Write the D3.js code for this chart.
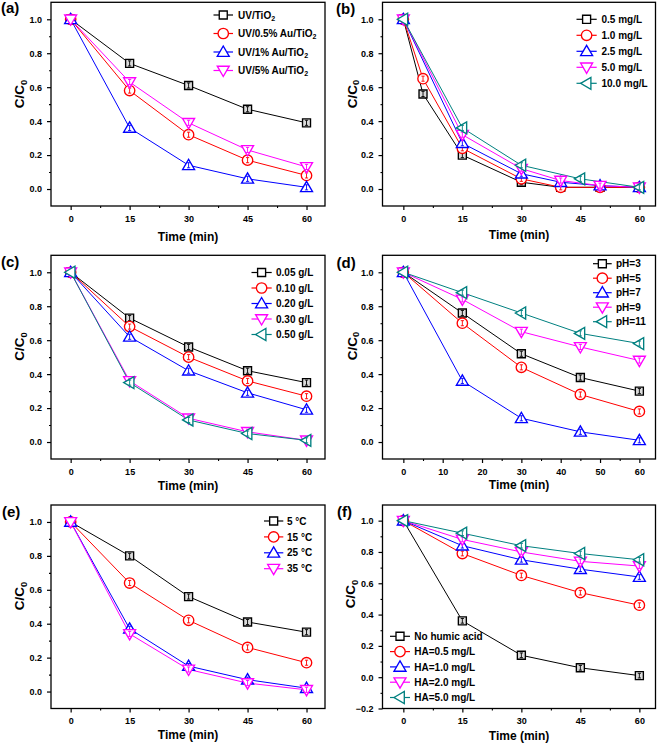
<!DOCTYPE html>
<html><head><meta charset="utf-8">
<script src="https://cdn.jsdelivr.net/npm/d3@7"></script>
<style>
body{margin:0;background:#fff}
svg text{font-family:"Liberation Sans",Arial,sans-serif;font-weight:bold;fill:#000}
</style>
</head><body>
<svg id="chart" width="661" height="747"></svg>
<script>
// ---------------- DATA ----------------
const timeStd = [0, 15, 30, 45, 60];
const xTicksStd = [0, 15, 30, 45, 60];
const xTicksD = [0, 10, 20, 30, 40, 50, 60];
const yTicksStd = [0, 0.2, 0.4, 0.6, 0.8, 1.0];
const yTicksF = [-0.2, 0, 0.2, 0.4, 0.6, 0.8, 1.0];

// (a) catalyst
const aNames = ["UV/TiO_2", "UV/0.5% Au/TiO_2", "UV/1% Au/TiO_2", "UV/5% Au/TiO_2"];
const aTiO2 = [1, 0.74, 0.61, 0.47, 0.39];
const aAu05 = [1, 0.58, 0.32, 0.17, 0.08];
const aAu1  = [1, 0.36, 0.14, 0.06, 0.01];
const aAu5  = [1, 0.63, 0.39, 0.23, 0.13];
const aErr  = [0, 0.015, 0.015, 0.015, 0.015];

// (b) initial concentration
const bNames = ["0.5 mg/L", "1.0 mg/L", "2.5 mg/L", "5.0 mg/L", "10.0 mg/L"];
const bX05 = [0, 5, 15, 30, 40, 50, 60];
const bY05 = [1, 0.56, 0.20, 0.04, 0.01, 0.01, 0.01];
const bX10 = [0, 5, 15, 30, 40, 50, 60];
const bY10 = [1, 0.65, 0.24, 0.06, 0.01, 0.01, 0.01];
const bX25 = [0, 15, 30, 40, 50, 60];
const bY25 = [1, 0.27, 0.09, 0.04, 0.02, 0.01];
const bX50 = [0, 15, 30, 40, 50, 60];
const bY50 = [1, 0.32, 0.12, 0.05, 0.02, 0.01];
const bX100 = [0, 15, 30, 45, 60];
const bY100 = [1, 0.36, 0.14, 0.06, 0.01];

// (c) catalyst dosage
const cNames = ["0.05 g/L", "0.10 g/L", "0.20 g/L", "0.30 g/L", "0.50 g/L"];
const c005 = [1, 0.73, 0.56, 0.42, 0.35];
const c010 = [1, 0.68, 0.50, 0.36, 0.27];
const c020 = [1, 0.62, 0.42, 0.29, 0.19];
const c030 = [1, 0.36, 0.14, 0.06, 0.01];
const c050 = [1, 0.35, 0.13, 0.05, 0.01];

// (d) pH
const dNames = ["pH=3", "pH=5", "pH=7", "pH=9", "pH=11"];
const dPH3  = [1, 0.76, 0.52, 0.38, 0.30];
const dPH5  = [1, 0.70, 0.44, 0.28, 0.18];
const dPH7  = [1, 0.36, 0.14, 0.06, 0.01];
const dPH9  = [1, 0.84, 0.65, 0.56, 0.48];
const dPH11 = [1, 0.88, 0.76, 0.64, 0.58];

// (e) temperature
const eNames = ["5 °C", "15 °C", "25 °C", "35 °C"];
const eT5  = [1, 0.80, 0.56, 0.41, 0.35];
const eT15 = [1, 0.64, 0.42, 0.26, 0.17];
const eT25 = [1, 0.37, 0.15, 0.07, 0.02];
const eT35 = [1, 0.34, 0.13, 0.05, 0.01];

// (f) humic acid
const fNames = ["No humic acid", "HA=0.5 mg/L", "HA=1.0 mg/L", "HA=2.0 mg/L", "HA=5.0 mg/L"];
const fNone = [1, 0.36, 0.14, 0.06, 0.01];
const fHA05 = [1, 0.79, 0.65, 0.54, 0.46];
const fHA10 = [1, 0.84, 0.75, 0.69, 0.64];
const fHA20 = [1, 0.88, 0.80, 0.74, 0.71];
const fHA50 = [1, 0.92, 0.84, 0.79, 0.75];

const colors = ["#000000", "#ff0000", "#0000ff", "#ff00ff", "#008080"];
const shapes = ["square", "circle", "triUp", "triDown", "triLeft"];

// ---------------- LAYOUT ----------------
const colX = [[51, 325], [382.5, 655.5]];
const rowY = [[2.3, 206], [255.3, 459], [505, 708.5]];
const xDomL = [-5, 64.7], xDomR = [-5.3, 64.1];

function mk(names, xs, ys) {
  return names.map((n, i) => ({name: n, x: xs[i], y: ys[i], color: colors[i], shape: shapes[i]}));
}

const panels = [
  {label: "(a)", lab: [1, 13], col: 0, row: 0, yDom: [-0.1, 1.1], yTicks: yTicksStd, xTicks: xTicksStd,
   ylab: [24, 94], xlab: 240.5,
   legend: {x0: 213.5, x1: 233, tx: 238, y0: 15, dy: 18.5},
   series: mk(aNames, [timeStd, timeStd, timeStd, timeStd], [aTiO2, aAu05, aAu1, aAu5])},
  {label: "(b)", lab: [336, 13.5], col: 1, row: 0, yDom: [-0.1, 1.1], yTicks: yTicksStd, xTicks: xTicksStd,
   ylab: [356.5, 94], xlab: 238.5,
   legend: {x0: 576.5, x1: 596.7, tx: 601.5, y0: 19.3, dy: 16},
   series: mk(bNames, [bX05, bX10, bX25, bX50, bX100], [bY05, bY10, bY25, bY50, bY100])},
  {label: "(c)", lab: [1, 266.5], col: 0, row: 1, yDom: [-0.1, 1.1], yTicks: yTicksStd, xTicks: xTicksStd,
   ylab: [24, 346.5], xlab: 490,
   legend: {x0: 251.5, x1: 271.7, tx: 276, y0: 272.5, dy: 15.5},
   series: mk(cNames, [timeStd, timeStd, timeStd, timeStd, timeStd], [c005, c010, c020, c030, c050])},
  {label: "(d)", lab: [336.5, 268], col: 1, row: 1, yDom: [-0.1, 1.1], yTicks: yTicksStd, xTicks: xTicksD,
   ylab: [356.5, 346], xlab: 488.5,
   legend: {x0: 593, x1: 611.7, tx: 616, y0: 263.7, dy: 14.5},
   series: mk(dNames, [timeStd, timeStd, timeStd, timeStd, timeStd], [dPH3, dPH5, dPH7, dPH9, dPH11])},
  {label: "(e)", lab: [2, 517], col: 0, row: 2, yDom: [-0.1, 1.1], yTicks: yTicksStd, xTicks: xTicksStd,
   ylab: [24, 596], xlab: 738.5,
   legend: {x0: 264, x1: 283.3, tx: 287, y0: 521, dy: 15.9},
   series: mk(eNames, [timeStd, timeStd, timeStd, timeStd], [eT5, eT15, eT25, eT35])},
  {label: "(f)", lab: [337, 517], col: 1, row: 2, yDom: [-0.2, 1.1], yTicks: yTicksF, xTicks: xTicksStd,
   ylab: [355, 594], xlab: 740,
   legend: {x0: 390, x1: 410, tx: 414.3, y0: 636.3, dy: 15.3},
   series: mk(fNames, [timeStd, timeStd, timeStd, timeStd, timeStd], [fNone, fHA05, fHA10, fHA20, fHA50])}
];

// ---------------- DRAW ----------------
const svg = d3.select("#chart");

function markerPath(shape) {
  switch (shape) {
    case "square": return "M-4,-4h8v8h-8Z";
    case "triUp": return "M0,-6L6,4.3L-6,4.3Z";
    case "triDown": return "M0,6L6,-4.3L-6,-4.3Z";
    case "triLeft": return "M-6,0L4.3,-6L4.3,6Z";
  }
  return null;
}
function drawMarker(g, shape, color, x, y, fill) {
  if (shape === "circle") {
    g.append("circle").attr("cx", x).attr("cy", y).attr("r", 5.2)
      .attr("fill", fill).attr("stroke", color).attr("stroke-width", 1.35);
  } else {
    g.append("path").attr("d", markerPath(shape)).attr("transform", `translate(${x},${y})`)
      .attr("fill", fill).attr("stroke", color).attr("stroke-width", 1.35).attr("stroke-linejoin", "miter");
  }
}
function rich(t, str) {
  const parts = str.split("_");
  t.append("tspan").text(parts[0]);
  if (parts.length > 1) {
    t.append("tspan").attr("dy", "0.3em").attr("font-size", "70%").text(parts[1]);
  }
}

panels.forEach(p => {
  const [x0, x1] = colX[p.col];
  const [y0, y1] = rowY[p.row];
  const x = d3.scaleLinear().domain(p.col === 0 ? xDomL : xDomR).range([x0, x1]);
  const y = d3.scaleLinear().domain(p.yDom).range([y1, y0]);
  const g = svg.append("g");

  // minor ticks
  const xStep = p.xTicks[1] - p.xTicks[0];
  const xMinor = p.xTicks.slice(0, -1).map(v => v + xStep / 2);
  const yMinor = p.yTicks.slice(0, -1).map(v => v + 0.1);
  g.append("g").attr("transform", `translate(0,${y1})`)
    .call(d3.axisBottom(x).tickValues(xMinor).tickSize(2).tickFormat(""))
    .call(a => a.select(".domain").remove())
    .call(a => a.selectAll("line").attr("stroke-width", 1.1));
  g.append("g").attr("transform", `translate(${x0},0)`)
    .call(d3.axisLeft(y).tickValues(yMinor).tickSize(2).tickFormat(""))
    .call(a => a.select(".domain").remove())
    .call(a => a.selectAll("line").attr("stroke-width", 1.1));

  // major ticks
  const xa = g.append("g").attr("transform", `translate(0,${y1})`)
    .call(d3.axisBottom(x).tickValues(p.xTicks).tickSize(4).tickPadding(5.5).tickFormat(d3.format("d")));
  xa.select(".domain").remove();
  xa.selectAll("line").attr("stroke-width", 1.2);
  xa.selectAll("text").attr("font-size", 9).attr("font-family", null).style("font-weight", "bold");
  const ya = g.append("g").attr("transform", `translate(${x0},0)`)
    .call(d3.axisLeft(y).tickValues(p.yTicks).tickSize(4).tickPadding(5).tickFormat(d3.format(".1f")));
  ya.select(".domain").remove();
  ya.selectAll("line").attr("stroke-width", 1.2);
  ya.selectAll("text").attr("font-size", 9).attr("font-family", null).style("font-weight", "bold");

  // frame
  g.append("rect").attr("x", x0).attr("y", y0).attr("width", x1 - x0).attr("height", y1 - y0)
    .attr("fill", "none").attr("stroke", "#000").attr("stroke-width", 1.3);

  // series
  const line = d3.line().x(d => x(d[0])).y(d => y(d[1]));
  p.series.forEach(s => {
    const pts = s.x.map((xv, i) => [xv, s.y[i]]);
    g.append("path").attr("d", line(pts)).attr("fill", "none")
      .attr("stroke", s.color).attr("stroke-width", 1);
  });
  p.series.forEach((s, si) => {
    const pts = s.x.map((xv, i) => [xv, s.y[i]]);
    pts.forEach((d, i) => {
      const cx = x(d[0]), cy = y(d[1]);
      drawMarker(g, s.shape, s.color, cx, cy, s.shape === "square" ? "#dcdcdc" : "#fff");
      if (i > 0) {
        const e = aErr[Math.min(i, aErr.length - 1)];
        const ya1 = y(d[1] + e), ya2 = y(d[1] - e);
        g.append("path").attr("d", `M${cx},${ya1}V${ya2}M${cx - 1.6},${ya1}h3.2M${cx - 1.6},${ya2}h3.2`)
          .attr("stroke", s.color).attr("stroke-width", 0.9).attr("fill", "none");
      }
    });
  });

  // legend
  const L = p.legend;
  p.series.forEach((s, i) => {
    const cy = L.y0 + i * L.dy;
    g.append("line").attr("x1", L.x0).attr("x2", L.x1).attr("y1", cy).attr("y2", cy)
      .attr("stroke", s.color).attr("stroke-width", 1.2);
    drawMarker(g, s.shape, s.color, (L.x0 + L.x1) / 2, cy, "#fff");
    const t = g.append("text").attr("x", L.tx).attr("y", cy + 3.6).attr("font-size", 10);
    rich(t, s.name);
  });

  // axis titles
  g.append("text").attr("x", (x0 + x1) / 2).attr("y", p.xlab).attr("text-anchor", "middle")
    .attr("font-size", 12).text("Time (min)");
  const yt = g.append("text").attr("transform", `translate(${p.ylab[0]},${p.ylab[1]}) rotate(-90)`)
    .attr("text-anchor", "middle").attr("font-size", 13.5);
  rich(yt, "C/C_0");

  // panel label
  g.append("text").attr("x", p.lab[0]).attr("y", p.lab[1]).attr("font-size", 15).text(p.label);
});
</script>
</body></html>
